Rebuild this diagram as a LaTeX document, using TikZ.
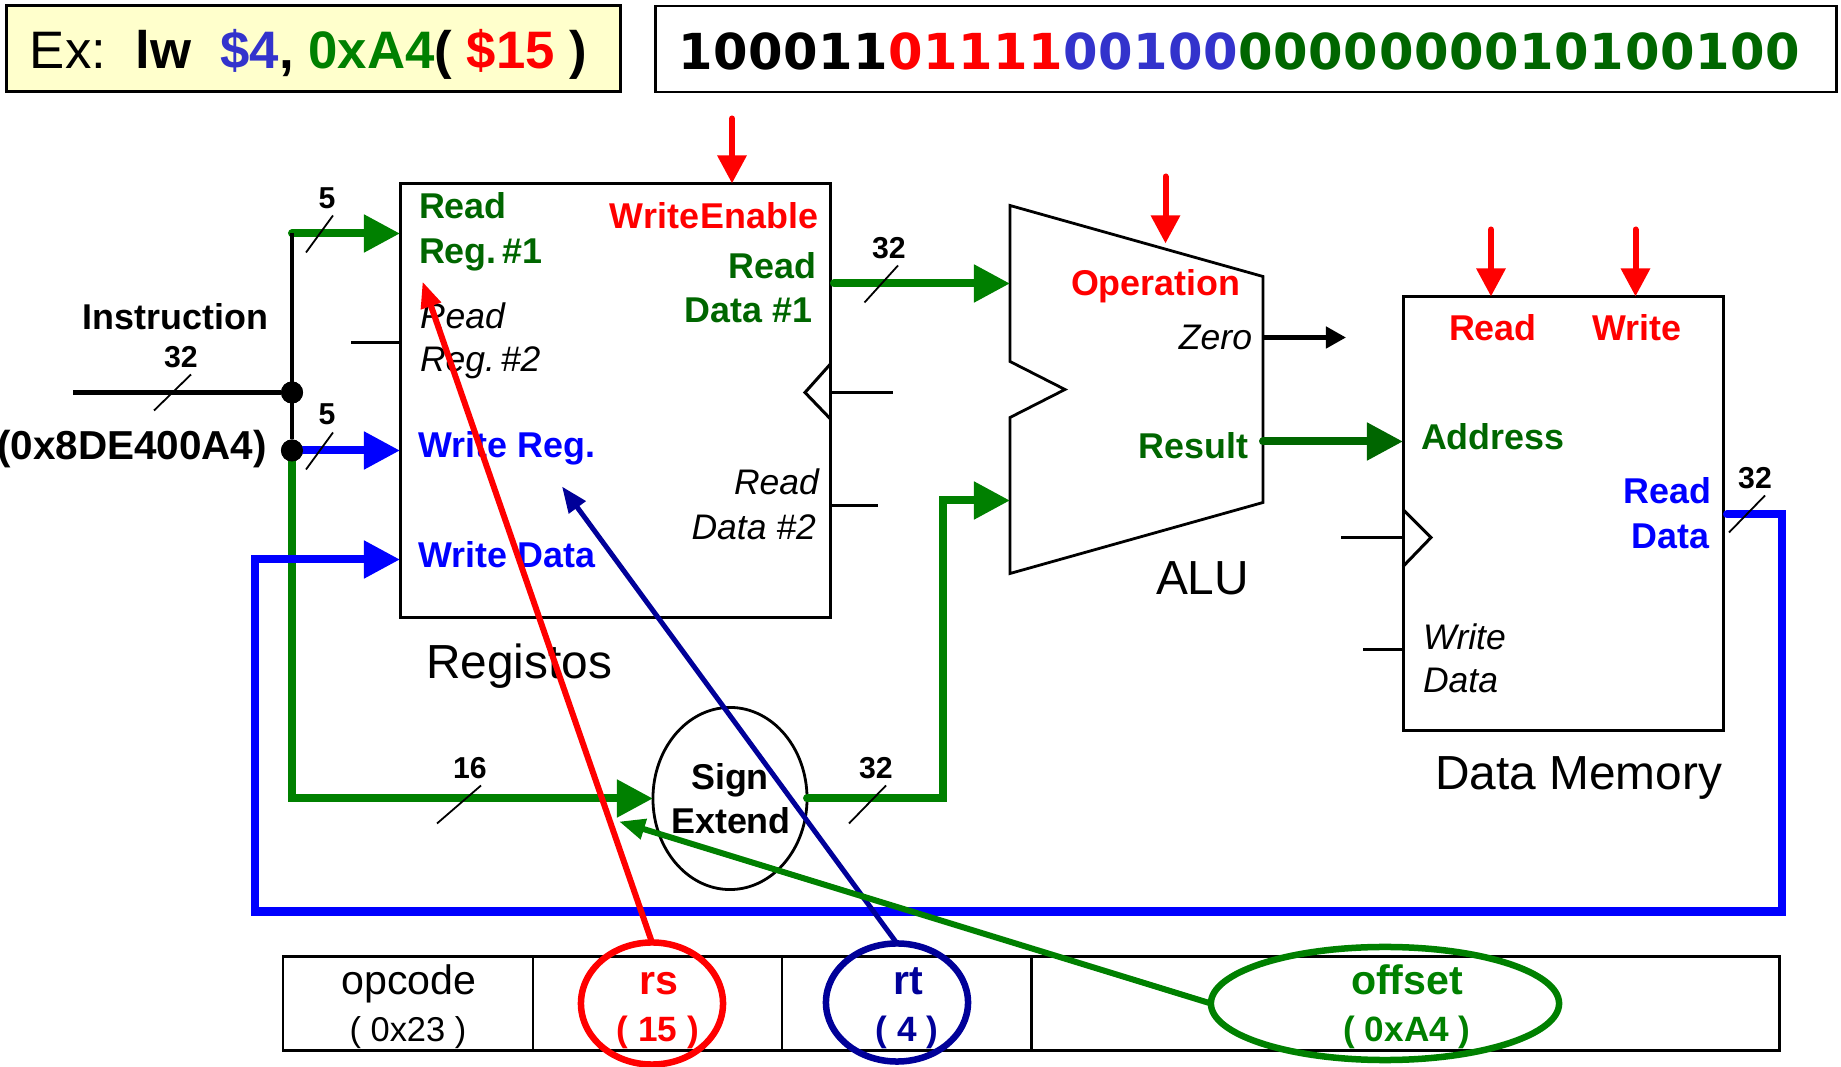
\documentclass[tikz,border=0pt]{standalone}
\usepackage{fontspec}
\setmainfont{Liberation Sans}
\newfontfamily\bitsfont[LetterSpace=1.3]{DejaVu Sans}
\usetikzlibrary{arrows.meta,shapes.geometric}
\definecolor{wiregreen}{RGB}{0,128,0}
\definecolor{textgreen}{RGB}{0,102,0}
\definecolor{wireblue}{RGB}{0,0,255}
\definecolor{softblue}{RGB}{51,51,204}
\definecolor{wirenavy}{RGB}{0,0,153}
\definecolor{notecream}{RGB}{255,255,204}
\newcommand{\fsbold}{\fontsize{10.2}{12}\selectfont\bfseries}
\newcommand{\fsital}{\fontsize{10.1}{12}\selectfont\itshape}
\newcommand{\fsbig}{\fontsize{13.6}{16}\selectfont}
\newcommand{\fswidth}{\fontsize{8.6}{10}\selectfont\bfseries}
\begin{document}
\begin{tikzpicture}[x=0.01cm,y=-0.01cm]
		\tikzstyle{every node}+=[inner sep=0pt,outer sep=0pt]
		\tikzstyle{lab}=[anchor=base west]
		\tikzstyle{labr}=[anchor=base east]
		\tikzstyle{labc}=[anchor=base]
		\tikzstyle{block}=[draw=black,line width=0.028cm,rectangle]
		\tikzstyle{cell}=[draw=black,line width=0.028cm,rectangle,minimum height=0.94cm]
		\tikzstyle{dot}=[circle,fill=black,minimum size=0.22cm]
		\tikzstyle{thin}=[black,line width=0.03cm]
		\tikzstyle{thick}=[black,line width=0.045cm]
		\tikzstyle{slash}=[black,line width=0.018cm]
		\tikzstyle{bus}=[line width=0.08cm,line cap=round,-{Triangle[length=0.36cm,width=0.36cm]}]
		\tikzstyle{ctrl}=[red,line width=0.06cm,line cap=round,-{Triangle[length=0.28cm,width=0.28cm]}]
		\tikzstyle{ptr}=[-{Triangle[length=0.26cm,width=0.2cm]}]
		\useasboundingbox (0,-1.5) rectangle (1841,1065.5);
		\node [block,fill=notecream,minimum width=6.13cm,minimum height=0.86cm] (note) at (313.5,47) {};
		\node [lab,font=\fontsize{15}{18}\selectfont] (notetext) at (30,67) {Ex:\ \ \textbf{lw}\ \ \textcolor{softblue}{\textbf{\$4}}\textbf{,} \textcolor{wiregreen}{\textbf{0xA4}}\textbf{(} \textcolor{red}{\textbf{\$15}} \textbf{)}};
		\node [block,minimum width=11.8cm,minimum height=0.86cm] (bits) at (1246,47.5) {};
		\node [lab,font=\bitsfont\fontsize{14.1}{17}\selectfont\bfseries] (bitstext) at (678,68) {100011\textcolor{red}{01111}\textcolor{softblue}{00100}\textcolor{textgreen}{0000000010100100}};
		\node [block,minimum width=4.29cm,minimum height=4.34cm] (reg) at (615.5,399) {};
		\node [block,minimum width=3.2cm,minimum height=4.34cm] (mem) at (1563.5,512) {};
		\coordinate (alua) at (1010,204);
		\coordinate (alub) at (1263,275);
		\coordinate (aluc) at (1263,501);
		\coordinate (alud) at (1010,572);
		\coordinate (alue) at (1010,416);
		\coordinate (aluf) at (1065,388);
		\coordinate (alug) at (1010,360);
		\draw [block] (alua) -- (alub) -- (aluc) -- (alud) -- (alue) -- (aluf) -- (alug) -- cycle;
		\node [draw=black,line width=0.028cm,ellipse,minimum width=1.54cm,minimum height=1.82cm] (sign) at (730,797) {};
		\node [cell,minimum width=2.5cm] (cellop) at (408,1002) {};
		\node [cell,minimum width=2.49cm] (cellrs) at (657.5,1002) {};
		\node [cell,minimum width=2.5cm] (cellrt) at (907,1002) {};
		\node [cell,minimum width=7.47cm] (celloff) at (1405.5,1002) {};
		\coordinate (inl) at (73,391);
		\node [dot] (joina) at (292,391) {};
		\node [dot] (joinb) at (292,449) {};
		\coordinate (corna) at (292,232);
		\coordinate (rega) at (400,232);
		\coordinate (regb) at (400,449);
		\coordinate (regc) at (400,558);
		\draw [wiregreen,bus] (corna) -- (rega);
		\draw [wireblue,bus] (joinb) -- (regb);
		\coordinate (cornb) at (292,797);
		\draw [wiregreen,bus] (joinb) -- (cornb) -- (sign.west);
		\draw [thick] (inl) -- (joina);
		\draw [thick] (corna) -- (joinb);
		\node [dot] at (joina) {};
		\node [dot] at (joinb) {};
		\coordinate (regout) at (834,282);
		\coordinate (aluin) at (1010,282);
		\draw [wiregreen,bus] (regout) -- (aluin);
		\coordinate (signa) at (943,797);
		\coordinate (signb) at (943,499);
		\coordinate (alubin) at (1010,499);
		\draw [wiregreen,bus] (sign.east) -- (signa) -- (signb) -- (alubin);
		\coordinate (resa) at (1263,440);
		\coordinate (resb) at (1403,440);
		\draw [textgreen,bus] (resa) -- (resb);
		\coordinate (zeroa) at (1263,336);
		\coordinate (zerob) at (1346,336);
		\draw [black,line width=0.045cm,-{Triangle[length=0.2cm,width=0.21cm]}] (zeroa) -- (zerob);
		\coordinate (fba) at (1727,513);
		\coordinate (fbb) at (1782,513);
		\coordinate (fbc) at (1782,910);
		\coordinate (fbd) at (255,910);
		\coordinate (fbe) at (255,558);
		\draw [wireblue,bus] (fba) -- (fbb) -- (fbc) -- (fbd) -- (fbe) -- (regc);
		\coordinate (rtwoa) at (351,341);
		\coordinate (rtwob) at (400,341);
		\draw [thin] (rtwoa) -- (rtwob);
		\coordinate (clka) at (830,363);
		\coordinate (clkb) at (805,391);
		\coordinate (clkc) at (830,417);
		\coordinate (clkd) at (893,391);
		\coordinate (clke) at (830,391);
		\draw [thin] (clka) -- (clkb) -- (clkc);
		\draw [thin] (clke) -- (clkd);
		\coordinate (dtwoa) at (830,504);
		\coordinate (dtwob) at (878,504);
		\draw [thin] (dtwoa) -- (dtwob);
		\coordinate (mclka) at (1403,508);
		\coordinate (mclkb) at (1431,536);
		\coordinate (mclkc) at (1403,565);
		\coordinate (mclkd) at (1341,536);
		\coordinate (mclke) at (1403,536);
		\draw [thin] (mclka) -- (mclkb) -- (mclkc);
		\draw [thin] (mclkd) -- (mclke);
		\coordinate (wda) at (1363,648);
		\coordinate (wdb) at (1403,648);
		\draw [thin] (wda) -- (wdb);
		\coordinate (wea) at (732,117);
		\coordinate (web) at (732,182);
		\draw [ctrl] (wea) -- (web);
		\coordinate (opa) at (1165.5,175);
		\coordinate (opb) at (1165.5,242);
		\draw [ctrl] (opa) -- (opb);
		\coordinate (rda) at (1491,228);
		\coordinate (rdb) at (1491,295);
		\draw [ctrl] (rda) -- (rdb);
		\coordinate (wra) at (1635.5,228);
		\coordinate (wrb) at (1635.5,295);
		\draw [ctrl] (wra) -- (wrb);
		\coordinate (sla) at (191,373);
		\coordinate (slb) at (154,409);
		\draw [slash] (sla) -- (slb);
		\coordinate (slc) at (333,214);
		\coordinate (sld) at (306,251);
		\draw [slash] (slc) -- (sld);
		\coordinate (sle) at (333,431);
		\coordinate (slf) at (306,468);
		\draw [slash] (sle) -- (slf);
		\coordinate (slg) at (898,264);
		\coordinate (slh) at (864.5,301);
		\draw [slash] (slg) -- (slh);
		\coordinate (sli) at (481,784);
		\coordinate (slj) at (437,822);
		\draw [slash] (sli) -- (slj);
		\coordinate (slk) at (886,784);
		\coordinate (sll) at (849,822);
		\draw [slash] (slk) -- (sll);
		\coordinate (slm) at (1765,494);
		\coordinate (sln) at (1729,531);
		\draw [slash] (slm) -- (sln);
		\node [lab,font=\fsbold,textgreen] (rr) at (419,217) {Read};
		\node [lab,font=\fsbold,textgreen] (rro) at (419,262) {Reg.\,\#1};
		\node [lab,font=\fsital] (rt) at (420,327) {Read};
		\node [lab,font=\fsital] (rrt) at (420,370) {Reg.\,\#2};
		\node [lab,font=\fsbold,wireblue] (wreg) at (418.5,456) {Write Reg.};
		\node [lab,font=\fsbold,wireblue] (wdat) at (418.5,566) {Write Data};
		\node [labr,font=\fsbold,red] (wen) at (818,227) {Write\hspace{0.4pt}Enable};
		\node [labr,font=\fsbold,textgreen] (drd) at (816,277) {Read};
		\node [labr,font=\fsbold,textgreen] (ddo) at (812,321) {Data \#1};
		\node [labr,font=\fsital] (drt) at (819,493) {Read};
		\node [labr,font=\fsital] (ddt) at (816,538) {Data \#2};
		\node [lab,font=\fsbig] (regname) at (426,677) {Registos};
		\node [lab,font=\fsbold,red] (oper) at (1071,294) {Operation};
		\node [labr,font=\fsital] (zero) at (1252,348) {Zero};
		\node [labr,font=\fsbold,textgreen] (res) at (1248,457) {Result};
		\node [lab,font=\fsbig] (aluname) at (1156,593) {ALU};
		\node [lab,font=\fsbold,red] (mrd) at (1449,339) {Read};
		\node [lab,font=\fsbold,red] (mwr) at (1592.5,339) {Write};
		\node [lab,font=\fsbold,textgreen] (addr) at (1421,448) {Address};
		\node [labr,font=\fsbold,wireblue] (mrdb) at (1711,502) {Read};
		\node [labr,font=\fsbold,wireblue] (mdb) at (1709,547) {Data};
		\node [lab,font=\fsital] (mw) at (1423,648) {Write};
		\node [lab,font=\fsital] (md) at (1423,691) {Data};
		\node [lab,font=\fsbig] (memname) at (1435,788) {Data Memory};
		\node [lab,font=\fsbold] (instr) at (83,328) {Instruction};
		\node [labr,font=\fontsize{11.5}{13}\selectfont\bfseries] (hex) at (267,458) {(0x8DE400A4)};
		\node [labc,font=\fswidth] (wa) at (181,366) {32};
		\node [labc,font=\fswidth] (wb) at (327,207) {5};
		\node [labc,font=\fswidth] (wc) at (327,423) {5};
		\node [labc,font=\fswidth] (wd) at (889,257) {32};
		\node [labc,font=\fswidth] (we) at (470,777) {16};
		\node [labc,font=\fswidth] (wf) at (876,777) {32};
		\node [labc,font=\fswidth] (wg) at (1755,487) {32};
		\node [labc,font=\fsbold] (signtop) at (730,788) {Sign};
		\node [labc,font=\fsbold] (signbot) at (731,832) {Extend};
		\tikzstyle{big}=[labc,font=\fontsize{11.7}{14}\selectfont]
		\tikzstyle{small}=[labc,font=\fontsize{9.8}{12}\selectfont]
		\node [big] (opname) at (409,993) {opcode};
		\node [small] (opval) at (408,1040) {( 0x23 )};
		\node [big,red,font=\fontsize{11.7}{14}\selectfont\bfseries] (rsname) at (659,993) {rs};
		\node [small,red,font=\fontsize{10}{12}\selectfont\bfseries] (rsval) at (658,1040) {( 15 )};
		\node [big,wirenavy,font=\fontsize{11.7}{14}\selectfont\bfseries] (rtname) at (908,993) {rt};
		\node [small,wirenavy,font=\fontsize{10}{12}\selectfont\bfseries] (rtval) at (907,1040) {( 4 )};
		\node [big,wiregreen,font=\fontsize{11.7}{14}\selectfont\bfseries] (offname) at (1407,993) {offset};
		\node [small,wiregreen,font=\fontsize{10}{12}\selectfont\bfseries] (offval) at (1407,1040) {( 0xA4 )};
		\node [draw=red,line width=0.065cm,ellipse,minimum width=1.42cm,minimum height=1.22cm] (rsring) at (652,1002) {};
		\node [draw=wirenavy,line width=0.065cm,ellipse,minimum width=1.42cm,minimum height=1.18cm] (rtring) at (897,1001) {};
		\node [draw=wiregreen,line width=0.065cm,ellipse,minimum width=3.48cm,minimum height=1.13cm] (offring) at (1385,1002) {};
		\coordinate (rstip) at (422.5,280);
		\coordinate (rttip) at (562,485);
		\coordinate (offtip) at (619,820);
		\draw [red,line width=0.06cm,ptr] (rsring.north) -- (rstip);
		\draw [wirenavy,line width=0.05cm,ptr] (rtring.north) -- (rttip);
		\draw [wiregreen,line width=0.06cm,ptr] (offring.west) -- (offtip);
	\end{tikzpicture}
\end{document}
